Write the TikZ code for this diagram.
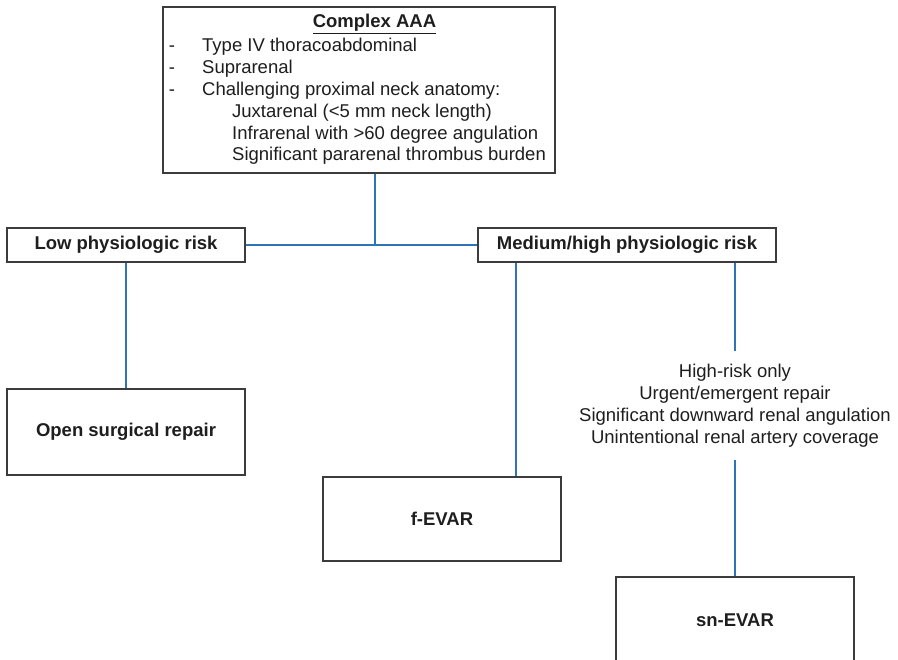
\documentclass[tikz,border=0pt]{standalone}
\usepackage{fontspec}
\setmainfont{Liberation Sans}
\definecolor{linkblue}{RGB}{46,117,184}
\definecolor{boxgray}{RGB}{60,60,60}
\definecolor{txtgray}{RGB}{30,30,30}
\begin{document}
\begin{tikzpicture}[x=1pt,y=-1pt,
  every node/.style={text=txtgray, font=\fontsize{18.5}{22}\selectfont},
  boxnode/.style={draw=boxgray, line width=1.3pt, fill=white, rectangle, inner sep=0pt, font=\fontsize{18.5}{22}\selectfont\bfseries},
  conn/.style={draw=linkblue, line width=2.6pt},
  listtext/.style={anchor=base west, inner sep=0pt},
  dashtext/.style={anchor=base, inner sep=0pt}]
\useasboundingbox (0,0) rectangle (898,660);
\clip (0,0) rectangle (898,660);
\fill[white] (0,0) rectangle (898,660);

% top box
\node[boxnode, minimum width=392pt, minimum height=166pt] (top) at (359,90) {};
\node[dashtext] (title) at (374.5,27.5) {\textbf{\underline{Complex AAA}}};
\node[dashtext] (d1) at (172,52) {-};
\node[dashtext] (d2) at (172,73.8) {-};
\node[dashtext] (d3) at (172,95.6) {-};
\node[listtext] (t1) at (202,52) {Type IV thoracoabdominal};
\node[listtext] (t2) at (202,73.8) {Suprarenal};
\node[listtext] (t3) at (202,95.6) {Challenging proximal neck anatomy:};
\node[listtext] (t4) at (232,117.4) {Juxtarenal (<5 mm neck length)};
\node[listtext] (t5) at (232,139.2) {Infrarenal with >60 degree angulation};
\node[listtext] (t6) at (232,161) {Significant pararenal thrombus burden};

% second level
\node[boxnode, minimum width=238pt, minimum height=34pt] (low) at (126,245) {Low physiologic risk};
\node[boxnode, minimum width=298pt, minimum height=34pt] (med) at (627,245) {Medium/high physiologic risk};

% outcomes
\node[boxnode, minimum width=238pt, minimum height=86pt] (open) at (126,432) {Open surgical repair};
\node[boxnode, minimum width=238pt, minimum height=84pt] (fevar) at (442,519) {f-EVAR};
\node[boxnode, minimum width=238pt, minimum height=86pt] (sn) at (735,620) {sn-EVAR};

% criteria text
\node[anchor=north, align=center, inner xsep=2pt, inner ysep=12.5pt] (crit) at (735,351)
  {High-risk only\\Urgent/emergent repair\\Significant downward renal angulation\\Unintentional renal artery coverage};

% connectors
\coordinate (j) at (375,245);
\coordinate (fx) at (516,0);
\draw[conn] (top.south -| j) -- (j);
\draw[conn] (low.east) -- (med.west);
\draw[conn] (low.south) -- (open.north);
\draw[conn] (med.south -| fx) -- (fevar.north -| fx);
\draw[conn] (med.south -| crit.north) -- (crit.north);
\draw[conn] (crit.south) -- (sn.north);
\end{tikzpicture}
\end{document}
